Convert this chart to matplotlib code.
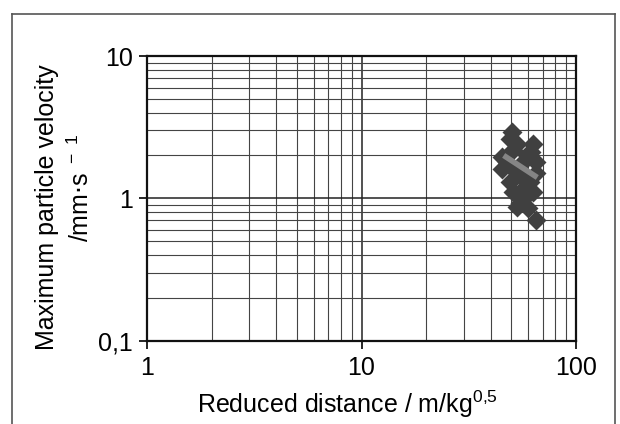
import matplotlib.pyplot as plt
from matplotlib.lines import Line2D
from matplotlib.ticker import FixedLocator, FixedFormatter, LogLocator, NullFormatter

plt.rcParams['font.family'] = ['Liberation Sans', 'DejaVu Sans']

# measured blasts: reduced distance (m/kg^0.5) and max particle velocity (mm/s)
reduced_distance = [50.5, 49, 63, 45, 45, 51, 65, 65, 49, 51, 63, 55, 60, 53,
                    65, 58, 55, 59, 47.5, 56, 53, 61, 57, 52, 62]
max_velocity = [2.9, 2.6, 2.4, 1.95, 1.6, 2.2, 1.8, 1.5, 1.3, 1.1, 1.1, 0.92,
                0.85, 0.87, 0.7, 1.2, 1.7, 2.0, 1.8, 1.4, 2.4, 1.3, 1.0, 1.55, 2.1]

# regression line drawn through the cloud
trend_x = [46, 66]
trend_y = [2.0, 1.4]

x_ticks = [1, 10, 100]
x_labels = ['1', '10', '100']
y_ticks = [0.1, 1, 10]
y_labels = ['0,1', '1', '10']

W, H = 620, 424
fig = plt.figure(figsize=(W / 100, H / 100), dpi=100)
ax = fig.add_axes([147 / W, 1 - 340.5 / H, (576 - 147) / W, (340.5 - 56) / H])

ax.set_xscale('log')
ax.set_yscale('log')
ax.set_xlim(1, 100)
ax.set_ylim(0.1, 10)

ax.plot(reduced_distance, max_velocity, 'D', color='#404040', ms=10, mec='none', zorder=3)
ax.plot(trend_x, trend_y, color='#858585', lw=4, solid_capstyle='butt', zorder=4)

ax.xaxis.set_major_locator(FixedLocator(x_ticks))
ax.xaxis.set_major_formatter(FixedFormatter(x_labels))
ax.yaxis.set_major_locator(FixedLocator(y_ticks))
ax.yaxis.set_major_formatter(FixedFormatter(y_labels))
ax.xaxis.set_minor_locator(LogLocator(base=10, subs=range(2, 10)))
ax.yaxis.set_minor_locator(LogLocator(base=10, subs=range(2, 10)))
ax.xaxis.set_minor_formatter(NullFormatter())
ax.yaxis.set_minor_formatter(NullFormatter())

ax.grid(which='major', color='#222222', lw=1.1)
ax.grid(which='minor', color='#444444', lw=0.8)
ax.set_axisbelow(True)

ax.tick_params(which='major', direction='out', length=6, width=1.2, labelsize=18)
ax.tick_params(axis='x', pad=5)
ax.tick_params(axis='y', pad=4)
ax.tick_params(which='minor', length=0)
for s in ax.spines.values():
    s.set_linewidth(1.6)
    s.set_color('#111111')

# axis titles placed as in the original (slightly off-centre)
fig.text(347 / W, 1 - 413 / H, r'Reduced distance / m/kg$^{\mathregular{0{,}5}}$',
         fontsize=18, ha='center', va='baseline')
fig.text(47 / W, 1 - 207 / H, 'Maximum particle velocity', fontsize=18,
         rotation=90, ha='center', va='center')
fig.text(81 / W, 1 - 188 / H, r'/mm$\cdot$s$^{\mathregular{\ -\ 1}}$', fontsize=18,
         rotation=90, ha='center', va='center')

# frame around the whole chart (open at the bottom)
frame = dict(color='#555555', lw=1.2, transform=fig.transFigure)
fig.add_artist(Line2D([12 / W, 12 / W], [0, 1 - 14 / H], **frame))
fig.add_artist(Line2D([12 / W, 615 / W], [1 - 14 / H, 1 - 14 / H], **frame))
fig.add_artist(Line2D([615 / W, 615 / W], [0, 1 - 14 / H], **frame))

fig.savefig('out.png', dpi=100)
